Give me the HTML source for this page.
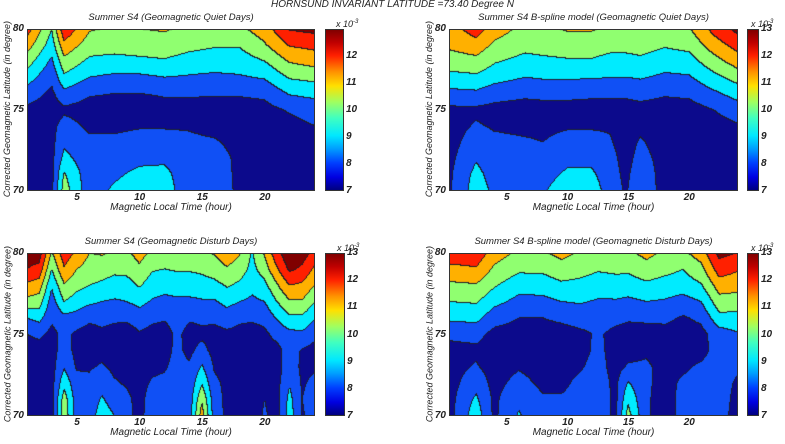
<!DOCTYPE html>
<html><head><meta charset="utf-8">
<style>
body{margin:0;background:#fff;width:785px;height:444px;overflow:hidden;position:relative;font-family:"Liberation Sans",sans-serif;}
.t{position:absolute;font-style:italic;color:#222;white-space:nowrap;}
.ax{position:absolute;border:1px solid #333;box-sizing:border-box;}
canvas{position:absolute;display:block;}
.cb{position:absolute;border:1px solid #333;box-sizing:border-box;background:linear-gradient(to top,#00007f 0%,#0000e0 8%,#0040ff 17%,#00a0ff 26%,#00e8ff 34%,#40ffc0 45%,#a0ff60 55%,#ffe000 65%,#ff9000 74%,#ff2000 84%,#c00000 92%,#800000 100%);}
</style></head><body>
<div class="t" style="left:0;width:785px;text-align:center;top:-1px;font-size:10px;">HORNSUND INVARIANT LATITUDE =73.40 Degree N</div>
<div id="root"></div>
<script>
// Lat rows (degrees), top to bottom
const lats = [80,79,78,77,76,75,74,73,72,71,70];
const levelTicks = [7,8,9,10,11,12,13];
const xTicks = [5,10,15,20];
const yTicks = [70,75,80];
// Panel 1: data, quiet days
const hoursTL = [1,3,4,6,8,10,12,14,16,18,20,22,24];
const gridTL = [
[12,11,10,9,8,7.3,7,7,7,7,7],
[9.5,9,8.3,7.7,7.3,7,7.2,7.2,7.2,7.2,7.2],
[12.3,11.2,10.2,9.3,8.2,7.3,7.9,8.3,8.8,9.6,10],
[10.6,10,9.3,8.5,7.6,7.1,7.3,7.7,7.9,7.9,7.9],
[10.4,9.9,9.2,8.3,7.5,7.1,7.3,7.7,7.9,8.3,8.7],
[10.5,10,9.3,8.3,7.5,7,7.4,7.9,8.2,8.8,9.2],
[10.6,10.1,9.4,8.5,7.6,7.2,7.4,7.9,8.3,8.8,9.1],
[10.3,9.8,9.1,8.4,7.6,7.2,7.4,7.7,7.8,7.8,7.7],
[10.1,9.6,9,8.3,7.6,7.1,7.2,7.6,7.9,8,8.1],
[10.3,9.6,9,8.4,7.6,7.1,7.1,7.2,7.3,7.3,7.3],
[11,10.4,9.5,8.6,7.7,7.2,7.1,7.1,7.2,7.3,7.3],
[12.6,11.6,10.6,9.6,8.6,7.6,7.2,7.2,7.4,7.5,7.4],
[12.8,11.8,10.9,9.8,8.8,7.9,7.5,7.3,7.2,7.2,7.2]];
// Panel 2: model, quiet days
const hoursTR = [0.25,2.5,4,6.5,8,10,12,13.5,14.8,16,18,20,22,24];
const gridTR = [
[11,10.7,10,9.2,8.2,7.3,7.1,7.1,7.2,7.3,7.3],
[12,11.1,10.2,9.3,8.3,7.3,7.6,8.0,8.4,8.8,9.0],
[11,10.3,9.6,8.9,7.9,7.2,7.4,7.7,7.9,8.1,8.3],
[10.2,9.8,9.2,8.5,7.7,7.1,7.3,7.6,7.8,7.9,8.3],
[10.3,9.9,9.3,8.6,7.8,7.1,7.3,7.5,7.8,8.1,8.4],
[10.6,10,9.4,8.6,7.8,7.1,7.4,7.8,8.2,8.7,9.1],
[10.6,10,9.4,8.6,7.7,7.1,7.4,7.8,8.2,8.7,9.1],
[10.3,9.8,9.2,8.5,7.7,7.1,7.4,7.6,7.8,7.9,8.0],
[10.2,9.8,9.2,8.5,7.7,7.1,7.1,7.1,7.2,7.3,7.4],
[10.3,9.9,9.3,8.6,7.8,7.2,7.3,7.6,7.8,8.0,8.1],
[10.2,9.6,9.0,8.3,7.6,7.1,7.1,7.1,7.2,7.2,7.2],
[10.4,9.8,9.1,8.4,7.7,7.1,7.0,7.0,7.1,7.1,7.1],
[11.8,11,10.1,9.2,8.3,7.5,7.1,7.0,7.1,7.1,7.1],
[12.8,11.9,11,9.9,8.9,8,7.4,7.2,7.2,7.1,7.1]];
// Panel 3: data, disturbed days
const hoursBL = [1,2,3,4,5,6,7,8,9,10,11,12,13,14,15,16,17,18,19,20,21,22,23,24];
const gridBL = [
[13,12.5,11.3,10.2,8.5,7.5,7.1,7.2,7.3,7.2,7.1],
[13,12.2,11,10,8.8,7.7,7.1,7.1,7.0,7.0,7.0],
[10.4,9.5,8.6,8.0,7.7,7.2,7.1,7.1,7.1,7.1,7.1],
[12.1,11.4,10.4,9.5,8.2,7.8,8,8.4,9.2,10,10.2],
[11.3,10.5,9.8,9,8.1,7.3,7.2,7.4,7.8,8.0,8.0],
[10.5,10.1,9.5,8.7,7.7,7.1,7.2,7.4,7.7,7.9,8.0],
[10.6,10,9.3,8.5,7.8,7.3,7.2,7.6,8.2,8.6,9.0],
[10.4,9.8,9.0,8.4,7.7,7.1,7.2,7.3,7.6,8.1,8.5],
[10.3,9.8,9.1,8.5,7.7,7.0,7.1,7.2,7.4,7.7,7.8],
[10.9,10.3,9.6,8.8,8,7.4,7.2,7.1,7.2,7.2,7.2],
[10.3,9.6,9.0,8.4,7.7,7.2,7.1,7.3,7.6,7.9,8.0],
[10.1,9.5,8.9,8.2,7.6,7.1,7.2,7.4,7.7,8.0,8.5],
[10.2,9.6,9.0,8.3,7.9,7.7,7.7,7.8,7.9,8.0,8.0],
[10.1,9.6,9.0,8.3,7.6,7.2,7.3,7.6,7.8,7.9,8.0],
[10.2,9.7,9.1,8.4,7.7,7.3,7.8,8.6,9.4,10.4,11],
[10.6,10,9.2,8.4,7.7,7.2,7.2,7.4,7.7,7.9,8.0],
[11.1,10.4,9.6,8.8,8.0,7.3,7.1,7.2,7.3,7.3,7.3],
[10.6,10,9.3,8.5,7.7,7.2,7.0,7.0,7.0,7.0,7.0],
[9.4,9.2,8.8,8.3,7.7,7.0,7.0,7.1,7.1,7.1,7.1],
[10.6,10,9.2,8.5,7.8,7.3,7.2,7.3,7.4,7.5,7.6],
[12.2,11.4,10.4,9.5,8.6,7.8,7.2,7.1,7.2,7.2,7.2],
[13.3,12.7,11.5,10.4,9.3,8.2,8,8.1,8.4,8.8,9],
[13,12.3,11.3,10.4,9.3,8.3,7.4,7.3,7.4,7.5,7.4],
[12.2,11.3,10.5,9.5,8.6,7.7,7.2,7.4,7.7,7.9,7.9]];
// Panel 4: model, disturbed days
const hoursBR = [0.25,2.5,4,6,8,9.5,11,12.5,14,15,16.5,18,19.5,21,22.5,24];
const gridBR = [
[12.2,11.2,10.3,9.5,8.7,7.7,7.2,7.1,7.1,7.1,7.1],
[12.2,11.4,10.4,9.6,8.8,7.8,7.3,7.6,8.1,8.7,9.1],
[11,10.3,9.6,8.8,7.9,7.2,7.1,7.1,7.2,7.3,7.3],
[10.3,9.7,8.9,8.2,7.5,7.1,7.2,7.4,7.8,8.3,8.6],
[10.4,9.7,9.0,8.2,7.5,7.1,7.1,7.2,7.3,7.6,7.8],
[10.8,10.1,9.3,8.5,7.7,7.1,7.1,7.2,7.3,7.6,7.8],
[10.4,9.9,9.2,8.6,7.9,7.3,7.2,7.4,7.7,7.8,7.9],
[10.2,9.6,9.0,8.4,7.8,7.6,7.7,7.8,7.9,8.0,8.0],
[10.3,9.7,9.1,8.4,7.7,7.3,7.2,7.2,7.3,7.3,7.3],
[10.3,9.7,9,8.3,7.6,7.2,7.2,7.6,8.6,9.3,9.9],
[10.8,10.1,9.3,8.5,7.7,7.1,7.4,7.6,7.6,7.6,7.6],
[10.3,9.8,9.1,8.4,7.7,7.2,7.2,7.3,7.3,7.2,7.2],
[10.3,9.5,9.0,8.1,7.4,7.1,7.2,7.4,7.6,7.7,7.7],
[11,10.2,9.4,8.5,7.7,7.2,7.3,7.6,7.7,7.7,7.7],
[12.8,12,11,10.1,9.2,8,7.8,7.8,7.8,7.8,7.7],
[12.5,11.6,10.9,10,9.2,8.4,7.8,7.6,7.4,7.3,7.3]];

const bandColors=[[12,10,140],[16,80,245],[0,235,255],[144,255,112],[255,176,0],[255,32,0],[128,0,0]];
const root=document.getElementById('root');
function mk(tag,cls,style,txt){const e=document.createElement(tag);if(cls)e.className=cls;e.style.cssText=style;if(txt!==undefined)e.textContent=txt;root.appendChild(e);return e;}
function sample(hours,grid,h,lat){
  let k=0;while(k<hours.length-2&&h>hours[k+1])k++;
  let tx=(h-hours[k])/(hours[k+1]-hours[k]);tx=Math.max(0,Math.min(1,tx));
  let fy=(lats[0]-lat);let i=Math.max(0,Math.min(lats.length-2,Math.floor(fy)));let ty=Math.max(0,Math.min(1,fy-i));
  const a=grid[k][i],b=grid[k+1][i],c=grid[k][i+1],d=grid[k+1][i+1];
  return (a*(1-tx)+b*tx)*(1-ty)+(c*(1-tx)+d*tx)*ty;
}
function band(v){return Math.max(0,Math.min(6,Math.floor(v-6.5)));}
function panel(p){
  const {L,T,W,H,h0,h1,hours,grid,title,cbL,cbW,key,cbTicks}=p;
  const tl=mk('div','t',`left:${L}px;width:${W}px;text-align:center;top:${T-17}px;font-size:9.5px;`,title);
  
  
  const cv=mk('canvas','',`left:${L}px;top:${T}px;width:${W}px;height:${H}px;`);
  cv.width=W;cv.height=H;
  
  
  const ctx=cv.getContext('2d');const img=ctx.createImageData(W,H);
  const B=new Array(W*H);
  const xs=h=>(h-h0)/(h1-h0)*W, ys=lat=>(80-lat)/10*H;
  for(let y=0;y<H;y++)for(let x=0;x<W;x++){
    const h=h0+(x+0.5)/W*(h1-h0), lat=80-(y+0.5)/H*10;
    B[y*W+x]=band(sample(hours,grid,h,lat));
  }
  for(let y=0;y<H;y++)for(let x=0;x<W;x++){
    const b=B[y*W+x];let c=bandColors[b];
    if((x<W-1&&B[y*W+x+1]!==b)||(y<H-1&&B[(y+1)*W+x]!==b))c=[30,30,40];
    const o=(y*W+x)*4;img.data[o]=c[0];img.data[o+1]=c[1];img.data[o+2]=c[2];img.data[o+3]=255;
  }
  ctx.putImageData(img,0,0);
  const box=mk('div','ax',`left:${L}px;top:${T}px;width:${W}px;height:${H}px;`);
  
  
  xTicks.forEach(v=>{const e=mk('div','t',`left:${L+xs(v)-10}px;width:20px;text-align:center;top:${T+H+1}px;font-size:10px;font-weight:bold;`,String(v));
    
    });
  yTicks.forEach(v=>{const e=mk('div','t',`left:${L-22}px;width:19px;text-align:right;top:${T+ys(v)-6}px;font-size:10px;font-weight:bold;`,String(v));
    
    });
  const xl=mk('div','t',`left:${L}px;width:${W}px;text-align:center;top:${T+H+11}px;font-size:10px;`,'Magnetic Local Time (hour)');
  
  
  const yw=H+40;
  const yl=mk('div','t',`left:${L-20-yw/2}px;width:${yw}px;text-align:center;top:${T+H/2-6}px;font-size:9px;transform:rotate(-90deg);`,'Corrected Geomagnetic Latitude (in degree)');
  
  
  const cb=mk('div','cb',`left:${cbL}px;top:${T}px;width:${cbW}px;height:${H}px;`);
  
  
  cbTicks.forEach(v=>{const e=mk('div','t',`left:${cbL+cbW+2}px;top:${T+(13-v)/6*H-6}px;font-size:10px;font-weight:bold;`,String(v));
    
    });
  const ex=mk('div','t',`left:${cbL+cbW-8}px;top:${T-10}px;font-size:9px;`,'');
  ex.innerHTML='x 10<sup style="font-size:6px">-3</sup>';
  
  
}
panel({key:'quiet-data',L:27,T:29,W:288,H:162,h0:1,h1:24,hours:hoursTL,grid:gridTL,title:'Summer S4 (Geomagnetic Quiet Days)',cbL:325,cbW:19,cbTicks:levelTicks.slice(0,6)});
panel({key:'quiet-model',L:449,T:29,W:289,H:162,h0:0.25,h1:24,hours:hoursTR,grid:gridTR,title:'Summer S4 B-spline model (Geomagnetic Quiet Days)',cbL:747,cbW:12,cbTicks:levelTicks});
panel({key:'disturb-data',L:27,T:253,W:288,H:163,h0:1,h1:24,hours:hoursBL,grid:gridBL,title:'Summer S4 (Geomagnetic Disturb Days)',cbL:325,cbW:20,cbTicks:levelTicks});
panel({key:'disturb-model',L:449,T:253,W:289,H:163,h0:0.25,h1:24,hours:hoursBR,grid:gridBR,title:'Summer S4 B-spline model (Geomagnetic Disturb Days)',cbL:747,cbW:12,cbTicks:levelTicks});
</script>
</body></html>
